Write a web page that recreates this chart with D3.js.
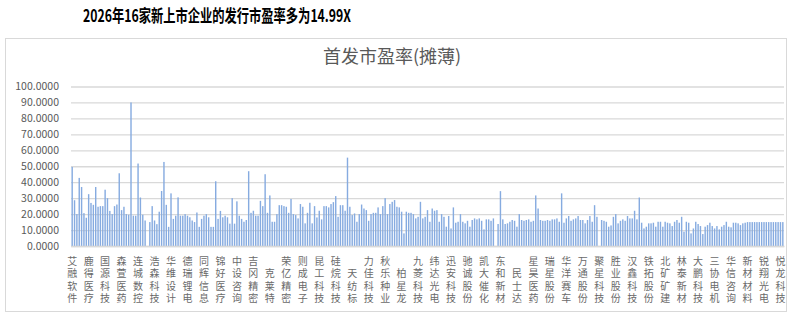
<!DOCTYPE html>
<html>
<head>
<meta charset="utf-8">
<script src="https://cdn.jsdelivr.net/npm/d3@7"></script>
<style>
  body { margin: 0; background: #fff; }
  svg text { font-family: "Noto Sans CJK SC", "Noto Sans", sans-serif; }
</style>
</head>
<body>
<div id="canvas"></div>
<script>
//---- ---- DATA ---- ----
var peValues = [
  49.6, 28.7, 20, 42.7, 37, 20.6, 17.7, 32.5, 27, 25.8,
  37, 24.6, 25, 25, 35.3, 30, 22, 20, 25, 26,
  45.6, 22.5, 24.6, 20, 19.6, 90, 19, 19, 51.7, 30.4,
  19.6, 16, 0, 15, 25, 16, 13.7, 21.5, 34.5, 52.7,
  25.8, 12, 33, 17, 19, 30.5, 19, 19, 20, 19,
  18, 16, 15, 21, 12, 17, 19, 20, 18, 12,
  12, 40.6, 17, 22, 18, 19, 18, 14, 30, 14,
  28, 19, 17, 15.2, 16.3, 46.9, 20.8, 22.1, 19, 19,
  28.3, 25, 45, 20.8, 31.7, 15.2, 15.2, 20, 25.6, 25.6,
  25, 24.6, 20.8, 29.5, 20, 19.4, 17.3, 26.3, 24.6, 14.2,
  20.8, 27.1, 14.2, 25, 17.9, 22.1, 16.7, 25, 25, 24.2,
  26.3, 27.5, 31.3, 18.3, 25.6, 25.6, 22.1, 55.4, 24.6, 19.4,
  20.4, 15.2, 20, 26, 23.5, 22.5, 15.8, 20, 20.8, 20.8,
  24.2, 20, 25, 30, 20, 26.3, 27.7, 28.8, 24.6, 24.2,
  21.5, 7.9, 21.5, 20.8, 20.8, 20, 17.3, 18.3, 27.7, 17.3,
  18.3, 22.5, 15.2, 23.5, 22.1, 22.5, 15.2, 20, 18.3, 12.1,
  18.8, 11, 24.2, 14.6, 15.2, 20, 15.2, 14.2, 15.8, 12.1,
  16.3, 17.3, 16.7, 17.3, 15.8, 10.4, 16.7, 16.7, 15.8, 17.3,
  0, 13.8, 34.4, 16.7, 13.8, 14.2, 15.2, 16.3, 15.8, 12.1,
  20, 16.3, 15.8, 16.3, 16.7, 15.2, 15.8, 31.7, 23.5, 16.3,
  15.8, 15.8, 16.3, 15.8, 16.7, 16.7, 17.3, 15.2, 33, 14.6,
  17.3, 18.8, 15.8, 16.7, 17.3, 18.8, 16.3, 16.3, 14.2, 16.3,
  18.8, 15.2, 25.6, 18.3, 0, 16.3, 15.8, 15.2, 12.1, 12.9,
  18.3, 20, 14.2, 15.8, 16.7, 15.8, 18.8, 17.3, 17.3, 22.1,
  16.7, 30.4, 14.6, 11, 12.1, 14.2, 14.2, 14.6, 12.1, 15.2,
  15.2, 12.1, 15.2, 14.6, 14.2, 12.5, 15.2, 16.3, 14.6, 18.3,
  9.0, 15.2, 14.6, 7.9, 11, 15.2, 13.8, 12.5, 7.5, 12.1,
  13.1, 14.6, 12.5, 11, 12.5, 10.4, 12.1, 13.1, 15.2, 12.1,
  11.7, 14.6, 14.6, 14.2, 13.1, 14.2, 14.6,
  14.99, 14.99, 14.99, 14.99, 14.99, 14.99, 14.99, 14.99,
  14.99, 14.99, 14.99, 14.99, 14.99, 14.99, 14.99, 14.99
];

var tickLabels = [
  '艾融软件','鹿得医疗','国源科技','森萱医药','连城数控','浩森科技','华维设计','德瑞锂电',
  '同辉信息','锦好医疗','中设咨询','吉冈精密','克莱特','荣亿精密','则成电子','昆工科技',
  '硅烷科技','天纺标','力佳科技','秋乐种业','柏星龙','九菱科技','纬达光电','迅安科技',
  '驰诚股份','凯大催化','东和新材','民士达','星昊医药','瑞星股份','华洋赛车','万通股份',
  '聚星科技','胜业股份','汉鑫科技','铁拓股份','北矿矿建','林泰新材','大鹏科技','三协电机',
  '华信咨询','新材材料','锐翔光电','悦龙科技'
];
var labelEvery = 7;

var yTicks = [0, 10, 20, 30, 40, 50, 60, 70, 80, 90, 100];

var title = '2026年16家新上市企业的发行市盈率多为14.99X';
var chartTitle = '首发市盈率(摊薄)';

//---- ---- SIZES ---- ----
var W = 800, H = 316;
var m = {t: 86.5, r: 16, b: 70, l: 71};
var w = W - m.l - m.r,
    h = H - m.t - m.b;

var svg = d3.select('#canvas')
    .append('svg')
    .attr('width', W)
    .attr('height', H);

// outer title
svg.append('text')
    .attr('x', 83).attr('y', 22)
    .attr('textLength', 268)
    .attr('lengthAdjust', 'spacingAndGlyphs')
    .style('font-size', '17px')
    .style('font-weight', 'bold')
    .style('fill', '#000')
    .text(title);

// chart frame
svg.append('rect')
    .attr('x', 5.5).attr('y', 38.5)
    .attr('width', 781).attr('height', 273)
    .style('fill', '#fff')
    .style('stroke', '#d9d9d9');

svg.append('text')
    .attr('x', 392).attr('y', 63)
    .attr('text-anchor', 'middle')
    .style('font-size', '18px')
    .style('fill', '#595959')
    .text(chartTitle);

var plot = svg.append('g')
    .attr('transform', 'translate(' + m.l + ',' + m.t + ')');

//---- ---- SCALES ---- ----
var scaleX = d3.scaleBand()
    .domain(d3.range(peValues.length))
    .range([0, w])
    .paddingInner(0.4)
    .paddingOuter(0.2);

var scaleY = d3.scaleLinear()
    .domain([0, 100])
    .range([h, 0]);

//---- ---- AXES ---- ----
var axisY = d3.axisLeft()
    .scale(scaleY)
    .tickValues(yTicks)
    .tickSize(-w)
    .tickPadding(12)
    .tickFormat(d3.format('.4f'));

var gy = plot.append('g').attr('class', 'axis axis-y').call(axisY);
gy.select('.domain').remove();
gy.selectAll('line').style('stroke', '#d9d9d9').style('stroke-width', 1.3);
gy.selectAll('text')
    .style('font-size', '10.5px')
    .style('fill', '#595959');

//---- ---- BARS ---- ----
plot.selectAll('rect.bar')
    .data(peValues)
    .enter()
    .append('rect')
    .attr('class', 'bar')
    .attr('x', function(d, i) { return scaleX(i); })
    .attr('width', scaleX.bandwidth())
    .attr('y', function(d) { return scaleY(d); })
    .attr('height', function(d) { return h - scaleY(d); })
    .style('fill', '#86abe0');

var axisX = d3.axisBottom()
    .scale(scaleX)
    .tickValues(scaleX.domain().filter(function(i) { return i % labelEvery === 0; }))
    .tickSize(0)
    .tickFormat(function(i) { return tickLabels[i / labelEvery]; });

var gx = plot.append('g').attr('class', 'axis axis-x')
    .attr('transform', 'translate(0,' + h + ')')
    .call(axisX);
gx.select('.domain').style('stroke', '#d9d9d9').style('stroke-width', 1.3);

// stacked labels, one character per line, bottom aligned
gx.selectAll('.tick text').each(function() {
    var t = d3.select(this);
    var chars = t.text().split('');
    var n = chars.length;
    t.text(null).attr('y', null).attr('dy', null)
        .style('font-size', '10px')
        .style('fill', '#6a6a6a');
    chars.forEach(function(c, k) {
        t.append('tspan')
            .attr('x', 0)
            .attr('y', 56 - (n - 1 - k) * 12.5)
            .text(c);
    });
});
</script>
</body>
</html>
